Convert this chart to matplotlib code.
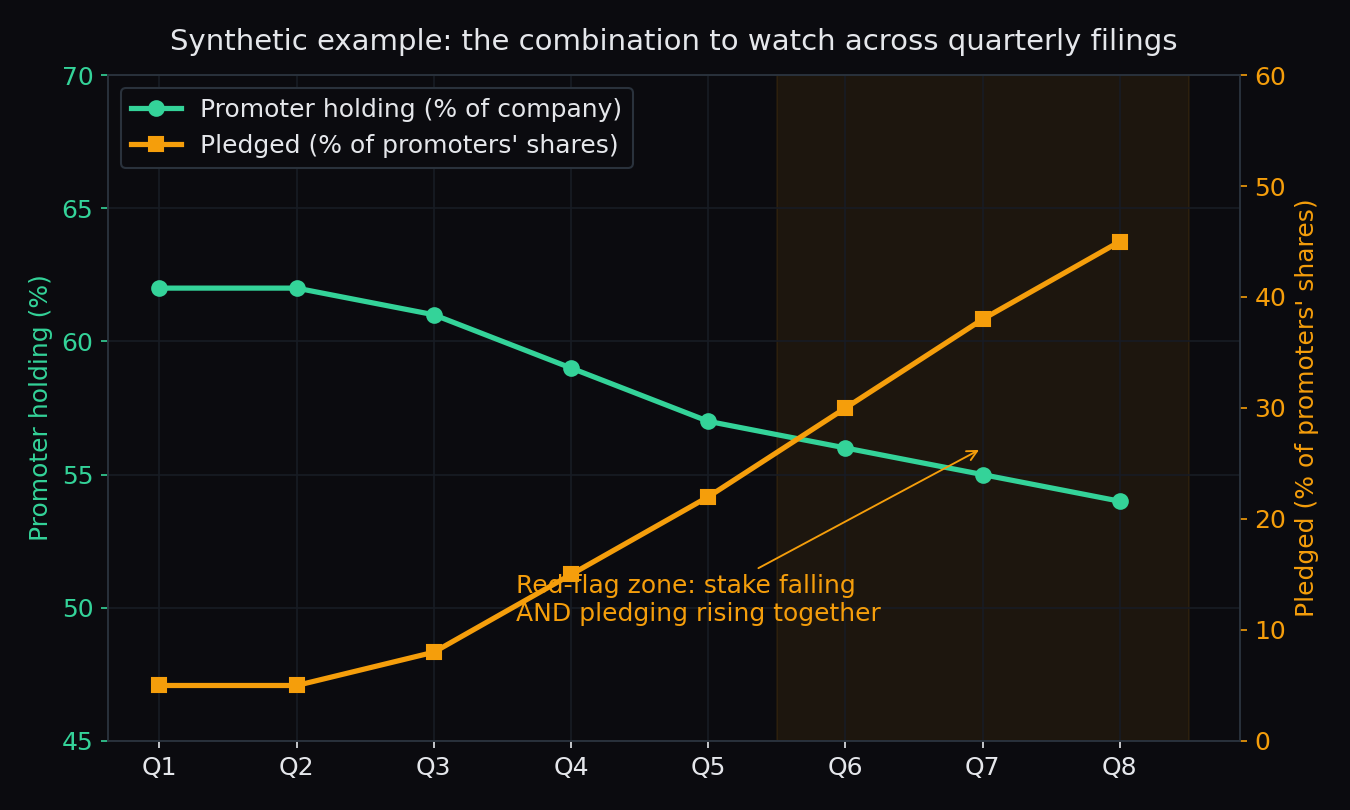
import numpy as np
import matplotlib
matplotlib.use("Agg")
import matplotlib.pyplot as plt

quarters = ["Q1", "Q2", "Q3", "Q4", "Q5", "Q6", "Q7", "Q8"]
holding = [62, 62, 61, 59, 57, 56, 55, 54]
pledged = [5, 5, 8, 15, 22, 30, 38, 45]

bg = "#0b0b0f"
green = "#34d399"
orange = "#f59e0b"
txt = "#e5e7eb"
gridc = "#181c24"
spinec = "#2a323c"

x = np.arange(len(quarters))

fig, ax1 = plt.subplots(figsize=(9, 5.4), dpi=150)
fig.patch.set_facecolor(bg)
ax1.set_facecolor(bg)
ax2 = ax1.twinx()

# red-flag zone
ax1.axvspan(4.5, 7.5, color=orange, alpha=0.08, zorder=0)

l1, = ax1.plot(x, holding, color=green, lw=2.5, marker="o", ms=7,
               label="Promoter holding (% of company)", zorder=3)
l2, = ax2.plot(x, pledged, color=orange, lw=2.5, marker="s", ms=7,
               label="Pledged (% of promoters' shares)", zorder=3)

ax1.set_ylim(45, 70)
ax2.set_ylim(0, 60)
ax1.set_xticks(x)
ax1.set_xticklabels(quarters)

ax1.grid(True, color=gridc, lw=0.8)
ax1.set_axisbelow(True)

ax1.set_ylabel("Promoter holding (%)", color=green, fontsize=12)
ax2.set_ylabel("Pledged (% of promoters' shares)", color=orange, fontsize=12)
ax1.tick_params(axis="y", colors=green, labelsize=12)
ax2.tick_params(axis="y", colors=orange, labelsize=12)
ax1.tick_params(axis="x", colors=txt, labelsize=12)
for a in (ax1, ax2):
    for s in a.spines.values():
        s.set_color(spinec)

ax1.set_title("Synthetic example: the combination to watch across quarterly filings",
              color=txt, fontsize=14, pad=12)

ax1.annotate("Red-flag zone: stake falling\nAND pledging rising together",
             xy=(6, 56), xytext=(2.6, 49.5), color=orange, fontsize=12,
             arrowprops=dict(arrowstyle="->", color=orange, lw=0.9))

leg = ax2.legend(handles=[l1, l2], loc="upper left", fontsize=12,
                 facecolor=bg, edgecolor=spinec, framealpha=1)
for t in leg.get_texts():
    t.set_color(txt)

fig.subplots_adjust(left=0.08, right=0.9185, top=0.9074, bottom=0.0852)
fig.savefig("out.png", dpi=150, facecolor=bg)
